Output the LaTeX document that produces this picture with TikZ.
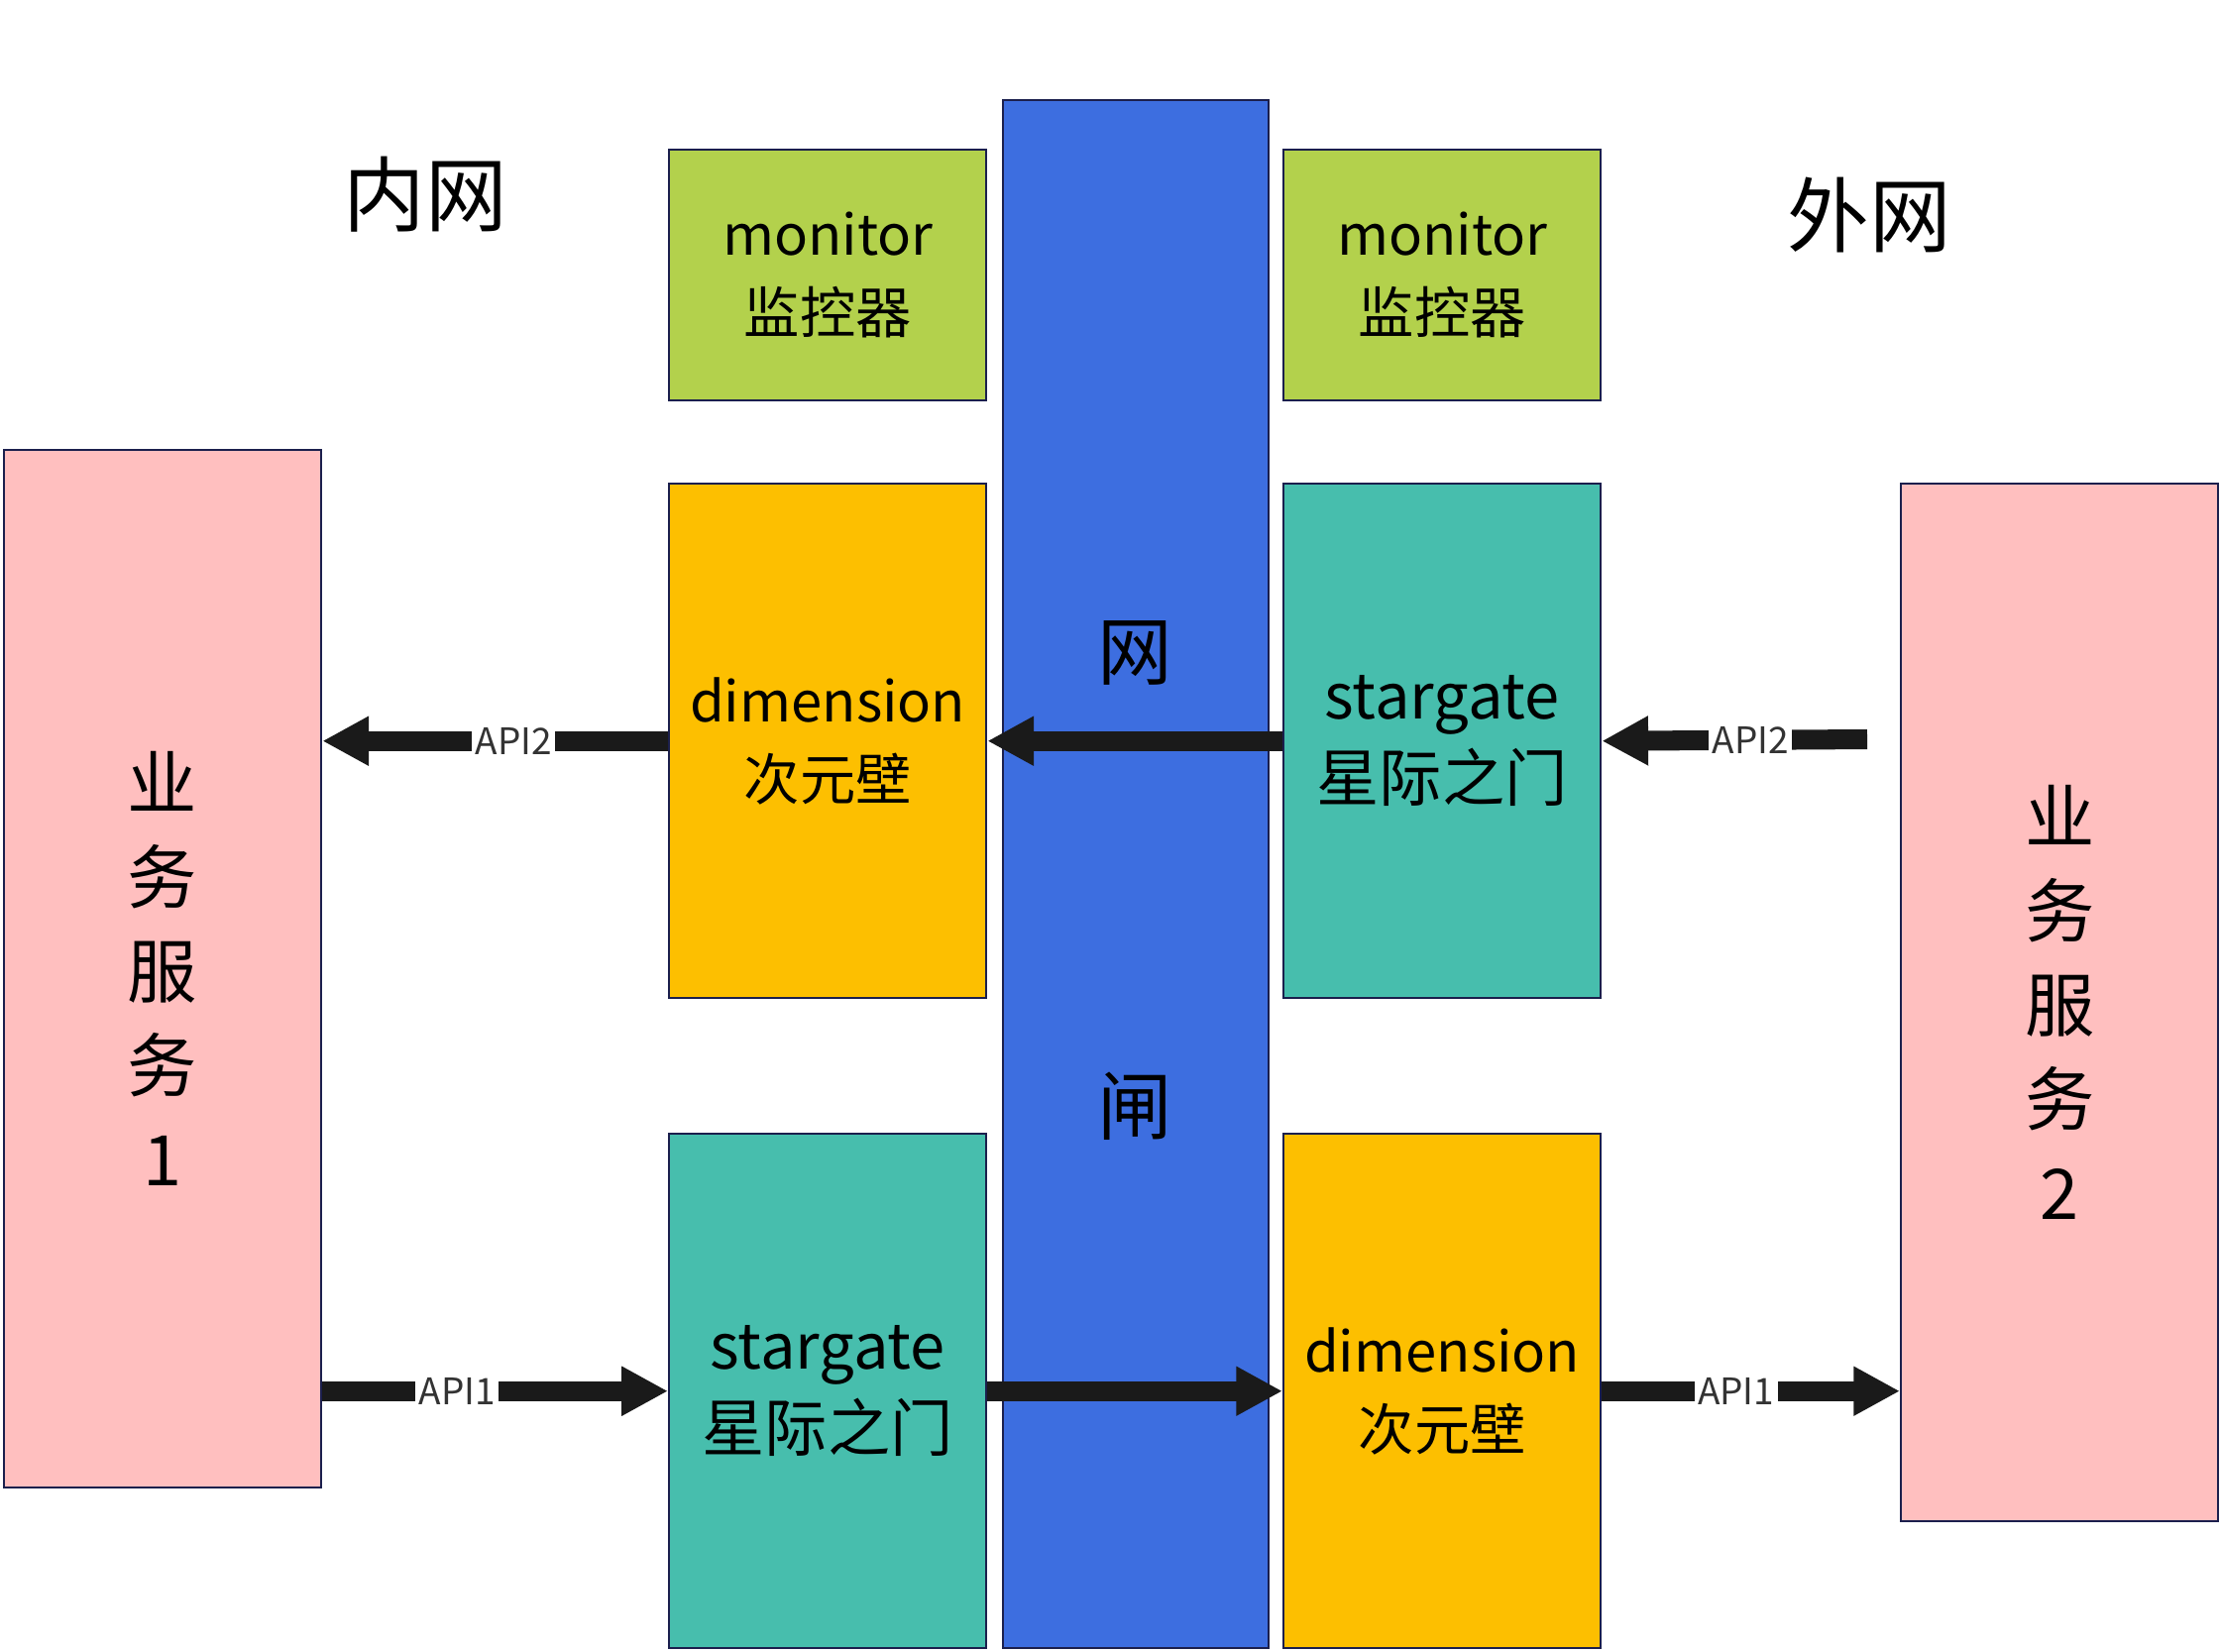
\documentclass[tikz,border=0pt]{standalone}
\usepackage{fontspec}
\setmainfont{Noto Sans CJK SC}
\usepackage{xcolor}
\definecolor{SvcPink}{HTML}{FFBFBF}
\definecolor{MonGreen}{HTML}{B3D14C}
\definecolor{DimAmber}{HTML}{FDBF00}
\definecolor{GateTeal}{HTML}{47BEAD}
\definecolor{WallBlue}{HTML}{3D6EE0}
\definecolor{EdgeNavy}{HTML}{1B1F4D}
\definecolor{ArrowInk}{HTML}{1A1A1A}
\definecolor{TagGray}{HTML}{333333}
\usetikzlibrary{positioning,arrows.meta}
\tikzset{
  bx/.style={draw=EdgeNavy,line width=0.6pt,anchor=north west,inner sep=0pt,
    align=center,text=black,minimum width=3.2cm},
  mon/.style={bx,fill=MonGreen,minimum height=2.53cm,font=\fontsize{16}{22.5}\selectfont},
  dim/.style={bx,fill=DimAmber,minimum height=5.19cm,font=\fontsize{16}{22.5}\selectfont},
  sgt/.style={bx,fill=GateTeal,minimum height=5.19cm,font=\fontsize{18}{23.5}\selectfont},
  svc/.style={bx,fill=SvcPink,minimum height=10.46cm,font=\fontsize{20}{27}\selectfont},
  wall/.style={bx,fill=WallBlue,minimum width=2.68cm,minimum height=15.61cm},
  wlbl/.style={font=\fontsize{21.5}{24}\selectfont,text=black},
  zone/.style={font=\fontsize{23.5}{26}\selectfont,text=black},
  flow/.style={-{Triangle[length=13.3pt,width=13.3pt]},draw=ArrowInk,line width=5.7pt},
  tag/.style={fill=white,inner xsep=1pt,inner ysep=0pt,
    font=\fontsize{10.5}{12}\selectfont,text=TagGray},
}

\begin{document}
\begin{tikzpicture}[x=0.01cm,y=-0.01cm]
\useasboundingbox (0,0) rectangle (2240,1666);

% gate wall
\node[wall] (wall) at (1011,100) {};
\node[wlbl] (wang) at (1145,659) {网};
\node[wlbl] (zha) at (1145,1116) {闸};

% zone titles
\node[zone] (inner) at (429,196) {内网};
\node[zone] (outer) at (1886,217) {外网};

% monitors
\node[mon] (monL) at (674,150) {monitor\\监控器};
\node[mon] (monR) at (1294,150) {monitor\\监控器};

% relay boxes
\node[dim] (dimL) at (674,487) {dimension\\次元壁};
\node[sgt] (sgR) at (1294,487) {stargate\\星际之门};
\node[sgt] (sgL) at (674,1143) {stargate\\星际之门};
\node[dim] (dimR) at (1294,1143) {dimension\\次元壁};

% services
\node[svc] (svcA) at (3,453) {业\\务\\服\\务\\1};
\node[svc] (svcB) at (1917,487) {业\\务\\服\\务\\2};

% API2: outside -> inside
\coordinate (src2) at (1884,746);
\draw[flow] (src2) -- node[tag,pos=0.44] {API2} (sgR.east);
\draw[flow] (sgR.west) -- (dimL.east);
\draw[flow] (dimL.west) -- node[tag,pos=0.447] {API2} (dimL.west -| svcA.east);

% API1: inside -> outside
\draw[flow] (svcA.east |- sgL.west) -- node[tag,pos=0.39] {API1} (sgL.west);
\draw[flow] (sgL.east) -- (dimR.west);
\draw[flow] (dimR.east) -- node[tag,pos=0.45] {API1} (dimR.east -| svcB.west);
\end{tikzpicture}
\end{document}
